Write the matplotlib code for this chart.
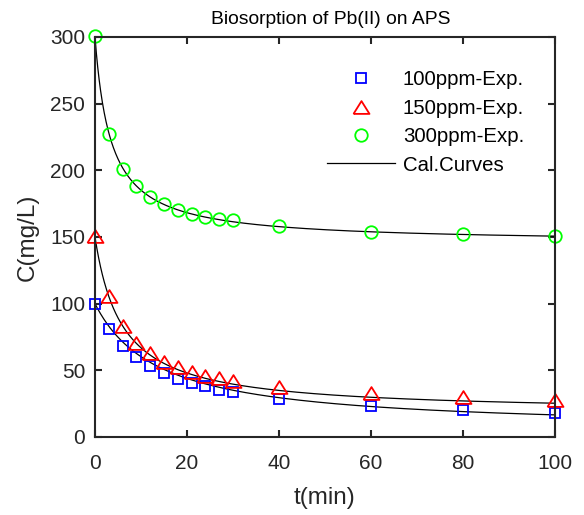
import numpy as np
import matplotlib
matplotlib.use('Agg')
import matplotlib.pyplot as plt

plt.rcParams['font.family'] = ['Liberation Sans', 'DejaVu Sans']

# sampling times (min)
t_exp = [0, 3, 6, 9, 12, 15, 18, 21, 24, 27, 30, 40, 60, 80, 100]

# residual concentration (mg/L)
c_100 = [100, 81, 68.5, 60, 53.5, 48, 43.7, 40.5, 38, 35.5, 33.5, 28.5, 23, 20, 17.7]
c_150 = [151, 106, 83, 70.7, 62.7, 56.5, 52.7, 49, 46, 44, 41.7, 37.7, 32.7, 30.2, 28]
c_300 = [300.5, 227.5, 201, 188.5, 179.8, 174.5, 170, 167.5, 165, 163.7, 162.7, 158.5, 153.5, 152, 151]

labels = ['100ppm-Exp.', '150ppm-Exp.', '300ppm-Exp.']

# calculated curves, C = Ce + (C0 - Ce) / (1 + b t)
curve_c0 = [100, 150, 300]
curve_ce = [5, 18, 145.5]
curve_b = [0.072, 0.17, 0.29]

fig = plt.figure(figsize=(5.84, 5.15), dpi=100)
ax = fig.add_axes([95 / 584, 78 / 515, 460 / 584, 400 / 515])

t_fine = np.linspace(0, 100, 1000)
for c0, ce, b in zip(curve_c0, curve_ce, curve_b):
    ax.plot(t_fine, ce + (c0 - ce) / (1 + b * t_fine), color='black', lw=0.9)

tri = [(-1, -0.8), (1, -0.8), (0, 0.8), (-1, -0.8)]
ax.plot(t_exp, c_100, ls='none', marker='s', ms=7.3, mfc='none', mec=(0, 0, 1),
        mew=1.3, clip_on=False, label=labels[0])
ax.plot(t_exp, c_150, ls='none', marker=tri, ms=11.5, mfc='none', mec=(1, 0, 0),
        mew=1.3, clip_on=False, label=labels[1])
ax.plot(t_exp, c_300, ls='none', marker='o', ms=9, mfc='none', mec=(0, 1, 0),
        mew=1.3, clip_on=False, label=labels[2])
ax.plot([], [], color='black', lw=0.9, label='Cal.Curves')

ax.set_xlim(0, 100)
ax.set_ylim(0, 300)
ax.set_xticks(np.arange(0, 101, 20))
ax.set_yticks(np.arange(0, 301, 50))
for s in ax.spines.values():
    s.set_linewidth(1.5)
    s.set_color('#262626')
ax.tick_params(direction='in', length=5, width=1.5, color='#262626',
               top=True, right=True, labelsize=15, labelcolor='#262626')
ax.tick_params(axis='x', pad=12)
ax.tick_params(axis='y', pad=7)

ax.set_xlabel('t(min)', fontsize=17.5, color='#262626', labelpad=10)
ax.set_ylabel('C(mg/L)', fontsize=17.5, color='#262626', labelpad=8)
ax.set_title('Biosorption of Pb(II) on APS', fontsize=13.9, color='black',
             pad=9.5, x=0.513)

ax.legend(loc='upper right', bbox_to_anchor=(0.973, 0.9625), frameon=False,
          fontsize=14.7, handlelength=3.3, handletextpad=0.4, labelspacing=0.46)

fig.savefig('out.png', dpi=100)
